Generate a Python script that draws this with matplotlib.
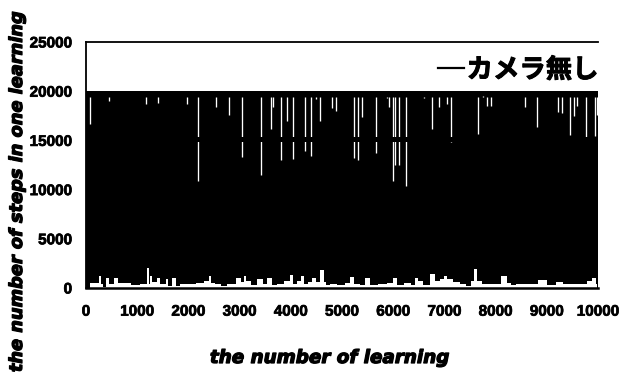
import matplotlib
matplotlib.use("Agg")
import matplotlib.pyplot as plt
import matplotlib.patheffects as pe
from matplotlib.lines import Line2D

TICK_FONT = "Liberation Sans"

# lower envelope of the oscillating series (episode, steps)
low_x = [0, 59, 91, 221, 273, 300, 352, 443, 469, 612, 638, 807, 938, 1165, 1217, 1243, 1263, 1328, 1426,
         1458, 1523, 1589, 1621, 1751, 1784, 1881, 2044, 2240, 2370, 2435, 2467, 2565, 2695, 2825, 3021,
         3053, 3118, 3151, 3281, 3411, 3496, 3593, 3691, 3789, 3951, 4016, 4082, 4179, 4212, 4309, 4375,
         4440, 4537, 4622, 4667, 4700, 4830, 4993, 5123, 5188, 5286, 5416, 5481, 5611, 5807, 5970, 6035,
         6132, 6295, 6393, 6458, 6523, 6653, 6796, 6848, 6978, 7011, 7109, 7239, 7369, 7467, 7564, 7610,
         7662, 7825, 8020, 8183, 8248, 8346, 8443, 8606, 8736, 8931, 9094, 9257, 9387, 9517, 9713, 9843,
         9940, 9973, 10000]
low_y = [0, 0, 544, 544, 1224, 374, 100, 1054, 374, 1054, 544, 544, 306, 442, 2006, 442, 1224, 646, 1054,
         442, 374, 884, 204, 1054, 204, 374, 442, 544, 714, 1224, 544, 374, 204, 442, 1054,
         646, 1224, 714, 306, 884, 374, 1054, 306, 442, 714, 1326, 374, 714, 1224, 442, 646,
         1054, 646, 1802, 646, 306, 442, 306, 544, 1122, 442, 306, 986, 306, 442, 544, 1054,
         306, 544, 306, 986, 714, 306, 1394, 714, 884, 1224, 884, 646, 442, 204, 714, 1904,
         714, 374, 442, 1224, 544, 306, 442, 442, 374, 782, 306, 646, 374, 442, 374, 714,
         1054, 374, 0]

# episodes that fell short of the 20000-step ceiling (episode, steps)
short_x = [72, 443, 1172, 1412, 1979, 2188, 2533, 2793, 3047, 3418, 3606, 3646, 3802, 3919, 4049, 4284, 4394,
           4492, 4570, 4733, 4798, 4883, 5240, 5318, 5396, 5664, 5879, 5924, 6002, 6035, 6113, 6256, 6607,
           6758, 6900, 7045, 7129, 7656, 7760, 7838, 7910, 8574, 8815, 9212, 9296, 9458, 9531, 9584, 9760,
           9941, 9974]
short_y = [16700, 19000, 18650, 18750, 18650, 10900, 18400, 17550, 13350, 11500, 16200, 18400, 13050, 17000,
           13100, 13900, 13400, 19200, 16950, 19400, 18300, 17950, 13200, 13050, 17350, 13700, 19300, 18400,
           10900, 12450, 12500, 10400, 19300, 16200, 18400, 18700, 14800, 15700, 19500, 18500, 18500, 18400,
           16350, 17900, 17800, 15500, 17500, 18500, 15300, 15400, 17550]

ceiling = 20000
short_top = 19450
band_level = 15150
x_ticks = list(range(0, 10001, 1000))
y_ticks = list(range(0, 25001, 5000))
series_label = "カメラ無し"

W, H = 628, 377
fig = plt.figure(figsize=(W / 100, H / 100), dpi=100, facecolor="white")
ax = fig.add_axes([86 / W, 1 - 288 / H, 512 / W, 246 / H])

ax.fill_between(low_x, low_y, ceiling, step="mid", color="black", lw=0, zorder=2)
ax.vlines(short_x, short_y, short_top, color="white", lw=0.95, zorder=3)
ax.hlines(band_level, 0, 10000, color="black", lw=3.6, zorder=4)

ax.set_xlim(0, 10000)
ax.set_ylim(0, 25000)
ax.set_xticks(x_ticks)
ax.set_yticks(y_ticks)
ax.tick_params(axis="y", length=0, pad=10)
ax.tick_params(axis="x", length=0, pad=12)
heavy = [pe.withStroke(linewidth=0.5, foreground="black")]
for lab in ax.get_xticklabels() + ax.get_yticklabels():
    lab.set_family(TICK_FONT)
    lab.set_fontweight("bold")
    lab.set_fontsize(11)
    lab.set_path_effects(heavy)

ax.spines["right"].set_visible(False)
for s in ("top", "left"):
    ax.spines[s].set_linewidth(1.3)
ax.spines["bottom"].set_linewidth(1.8)

heavier = [pe.withStroke(linewidth=0.9, foreground="black")]
fig.text(330 / W, 1 - 358 / H, "the number of learning", ha="center", va="center",
         family="DejaVu Sans", fontweight="bold", style="italic", fontsize=13.2, path_effects=heavier)
fig.text(17 / W, 1 - 192 / H, "the number of steps in one learning", ha="center", va="center",
         rotation=90, family="DejaVu Sans", fontweight="bold", style="italic", fontsize=12.8, path_effects=heavier)

handle = Line2D([], [], color="black", lw=1.6)
leg = ax.legend([handle], [series_label], loc="upper right", frameon=False,
                bbox_to_anchor=(1.006, 0.951), borderpad=0.1, borderaxespad=0.0,
                handlelength=1.0, handletextpad=0.1, labelspacing=0,
                prop={"family": ["Noto Sans CJK JP", "DejaVu Sans"], "weight": "bold", "size": 19})
for t in leg.get_texts():
    t.set_path_effects([pe.withStroke(linewidth=0.7, foreground="black")])

fig.savefig("out.png", dpi=100)
